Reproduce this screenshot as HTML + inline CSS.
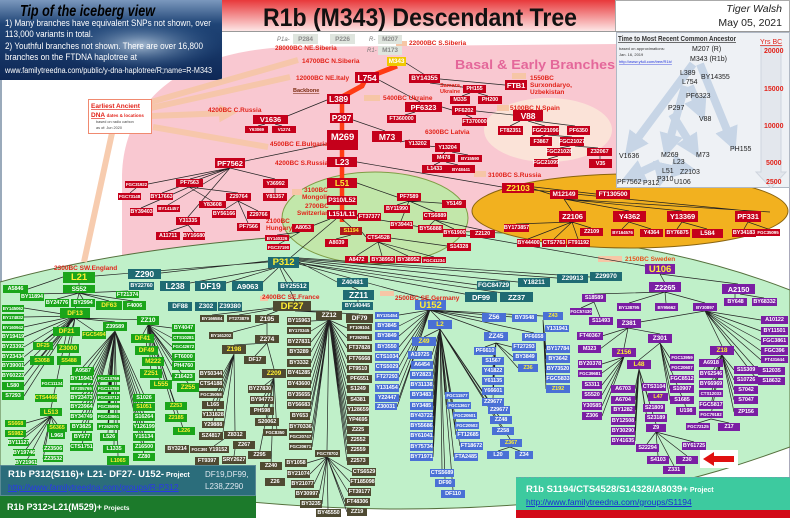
<!DOCTYPE html>
<html><head><meta charset="utf-8">
<style>
html,body{margin:0;padding:0;background:#fff}
#c{position:relative;width:790px;height:518px;overflow:hidden;background:#fff;font-family:"Liberation Sans",sans-serif}
svg{position:absolute;left:0;top:0}
.n{position:absolute;height:8px;display:flex;align-items:center;justify-content:center;font:bold 5.5px "Liberation Sans",sans-serif;color:#fff;white-space:nowrap;overflow:visible;letter-spacing:-0.1px}
.r{background:#c5001b}.g{background:#1aa51a}.t{background:#1f6b73}.o{background:#4f4a32}.b{background:#4a70d5}.p{background:#7a1ea3}
.gr{background:#dfe5de;color:#8a8a8a}
.y{color:#ffee33}
.f4{font-size:4.5px}.f6{font-size:6.5px}.f7{font-size:7.5px}.f8{font-size:8.5px}.f9{font-size:9.5px}
.d{font:bold 6.5px "Liberation Sans",sans-serif;fill:#e2231a}
.it{font:7px "Liberation Sans",sans-serif;fill:#222}
.bx{position:absolute;color:#fff;font-family:"Liberation Sans",sans-serif}
</style></head><body>
<div id="c">
<svg width="790" height="518" viewBox="0 0 790 518">
<defs>
<linearGradient id="tb" x1="0" y1="0" x2="0" y2="1"><stop offset="0" stop-color="#e8383a"/><stop offset="1" stop-color="#fde6e6"/></linearGradient>
<linearGradient id="ice" x1="0" y1="0" x2="0" y2="1"><stop offset="0" stop-color="#7b98bd"/><stop offset=".3" stop-color="#1f4476"/><stop offset="1" stop-color="#0e2856"/></linearGradient>
<radialGradient id="berg" cx=".5" cy=".5" r=".5"><stop offset="0" stop-color="#d6e6f4" stop-opacity=".75"/><stop offset="1" stop-color="#2a5a90" stop-opacity="0"/></radialGradient>
<marker id="ba" markerWidth="3" markerHeight="3" refX="1.5" refY="1.5" orient="auto"><path d="M0,0 L3,1.5 L0,3 Z" fill="#c5d4e6"/></marker>
<marker id="sa" markerWidth="3" markerHeight="3" refX="1.5" refY="1.5" orient="auto"><path d="M0,0 L3,1.5 L0,3 Z" fill="#f6c6a6"/></marker>
</defs>
<rect x="0" y="80" width="2" height="390" fill="#9aaabb"/>
<line x1="789.5" y1="0" x2="789.5" y2="518" stroke="#aab" stroke-width="1"/>
<path d="M290,47 L616,44 L616,205 L470,262 L122,264 L122,175 C124,95 190,50 290,47 Z" fill="#f9c8d1"/>
<ellipse cx="548" cy="130" rx="64" ry="32" fill="#fbe3d8"/>
<path d="M0,282 C150,240 350,228 480,232 C600,236 700,255 790,290 L790,447 C740,465 700,478 640,490 C560,505 460,509 400,509 C300,509 200,500 0,470 Z" fill="#c0f0c9" stroke="#55703d" stroke-width="1"/>
<ellipse cx="375" cy="218" rx="93" ry="46" fill="#c2e7aa" stroke="#7f9d45" stroke-width="1"/>
<ellipse cx="630" cy="211" rx="158" ry="37" fill="#f2b11f" stroke="#8a6410" stroke-width="1"/>
<rect x="0" y="0" width="222" height="80" fill="url(#ice)"/>
<ellipse cx="140" cy="45" rx="85" ry="28" fill="url(#berg)"/>
<text x="20" y="16" font-family="Liberation Sans" font-weight="bold" font-style="italic" font-size="16" fill="#000" textLength="135" lengthAdjust="spacingAndGlyphs">Tip of the iceberg view</text>
<g font-family="Liberation Sans" font-size="9.5" fill="#fff">
<text x="5" y="26" textLength="206" lengthAdjust="spacingAndGlyphs">1) Many branches have equivalent SNPs not shown, over</text>
<text x="5" y="37" textLength="88" lengthAdjust="spacingAndGlyphs">113,000 variants in total.</text>
<text x="5" y="49" textLength="198" lengthAdjust="spacingAndGlyphs">2) Youthful branches not shown. There are over 16,800</text>
<text x="5" y="60" textLength="132" lengthAdjust="spacingAndGlyphs">branches on the FTDNA haplotree at</text>
<text x="5" y="73" font-size="8" textLength="207" lengthAdjust="spacingAndGlyphs">www.familytreedna.com/public/y-dna-haplotree/R;name=R-M343</text>
</g>
<rect x="222" y="0" width="393" height="31" fill="url(#tb)"/>
<rect x="615.5" y="0.5" width="174" height="31" fill="#fff" stroke="#aaa"/>
<line x1="222" y1="31.5" x2="790" y2="31.5" stroke="#999"/>
<text x="263" y="26" font-family="Liberation Sans" font-weight="bold" font-size="25" fill="#111" textLength="314" lengthAdjust="spacingAndGlyphs">R1b (M343) Descendant Tree</text>
<text x="782" y="12" text-anchor="end" font-family="Liberation Sans" font-style="italic" font-size="10.5" fill="#222">Tiger Walsh</text>
<text x="782" y="26" text-anchor="end" font-family="Liberation Sans" font-size="10.5" fill="#222">May 05, 2021</text>
<rect x="616.5" y="32.5" width="173" height="155" fill="#eef1f5" stroke="#b0b8c4"/>
<path d="M761,46 L781,46 L781,172 L786,172 L771,188 L756,172 L761,172 Z" fill="#e3e7ed" stroke="#cfd5de"/>
<g stroke="#c5d4e6" stroke-width="8" fill="none" marker-end="url(#ba)" opacity=".95">
<line x1="693" y1="64" x2="632" y2="146"/>
<line x1="700" y1="64" x2="731" y2="140"/>
<line x1="685" y1="86" x2="668" y2="146"/>
<line x1="690" y1="86" x2="700" y2="110"/>
<line x1="672" y1="114" x2="693" y2="148"/>
<line x1="660" y1="163" x2="632" y2="176"/>
<line x1="664" y1="166" x2="662" y2="175"/>
<line x1="672" y1="166" x2="684" y2="168"/>
</g>
<text x="618" y="41" font-family="Liberation Sans" font-weight="bold" font-size="7" fill="#333" text-decoration="underline" textLength="118" lengthAdjust="spacingAndGlyphs">Time to Most Recent Common Ancestor</text>
<text x="760" y="44" font-family="Liberation Sans" font-size="7" fill="#e2231a" text-decoration="underline">Yrs BC</text>
<text x="619" y="50" font-family="Liberation Sans" font-size="4" fill="#333">based on approximations:</text>
<text x="619" y="56" font-family="Liberation Sans" font-size="4" fill="#333">Jan. 16, 2019</text>
<text x="619" y="63" font-family="Liberation Sans" font-size="4" fill="#2233dd" text-decoration="underline">http://www.yfull.com/tree/R1b/</text>
<g font-family="Liberation Sans" font-weight="bold" font-size="7" fill="#e2231a">
<text x="764" y="53">20000</text><text x="764" y="91">15000</text><text x="764" y="128">10000</text><text x="766" y="165">5000</text><text x="766" y="184">2500</text></g>
<g class="it">
<text x="692" y="51">M207 (R)</text><text x="690" y="61">M343  (R1b)</text><text x="680" y="75">L389</text><text x="701" y="79">BY14355</text><text x="682" y="84">L754</text><text x="686" y="98">PF6323</text><text x="668" y="110">P297</text><text x="699" y="121">V88</text><text x="730" y="151">PH155</text><text x="619" y="158">V1636</text><text x="661" y="157">M269</text><text x="673" y="164">L23</text><text x="696" y="157">M73</text><text x="662" y="173">L51</text><text x="680" y="174">Z2103</text><text x="617" y="184">PF7562</text><text x="643" y="185">P312</text><text x="657" y="181">P310</text><text x="674" y="184">U106</text>
</g>
<g stroke="#f6c6a6" stroke-width="6" fill="none" opacity=".9">
<line x1="151" y1="102" x2="298" y2="60"/>
<line x1="151" y1="108" x2="290" y2="77"/>
<line x1="151" y1="116" x2="228" y2="113" marker-end="url(#sa)"/>
<line x1="153" y1="127" x2="268" y2="147"/>
<line x1="112" y1="133" x2="84" y2="262"/>
</g>
<g fill="#f6c6a6">
<rect x="396" y="41" width="11" height="5"/><rect x="364" y="95" width="16" height="6"/><rect x="497" y="105" width="12" height="6"/>
<rect x="512" y="73" width="14" height="6"/><rect x="474" y="171" width="12" height="6"/><rect x="598" y="256" width="24" height="6"/>
<rect x="380" y="291" width="14" height="5"/><rect x="292" y="189" width="10" height="6"/><rect x="260" y="296" width="8" height="5"/>
</g>
<rect x="88.5" y="99.5" width="63" height="34" fill="#fff" stroke="#f08a70"/>
<text x="91" y="108" font-family="Liberation Sans" font-weight="bold" font-size="6.5" fill="#e2231a" text-decoration="underline">Earliest Ancient</text>
<text x="91" y="117" font-family="Liberation Sans" font-weight="bold" font-size="6.5" fill="#e2231a"><tspan text-decoration="underline">DNA</tspan> <tspan font-size="4.5">dates &amp; locations</tspan></text>
<text x="96" y="123" font-family="Liberation Sans" font-size="3.8" fill="#444">based on radio carbon</text>
<text x="96" y="129" font-family="Liberation Sans" font-size="3.8" fill="#444">as of: Jun 2020</text>
<polyline points="397,66 366,78 362,86 340,98" stroke="#ff3b14" stroke-width="5" fill="none"/>
<line x1="342" y1="98" x2="342" y2="222" stroke="#ff3b14" stroke-width="4.5"/>
<path stroke="#222" stroke-width="0.7" fill="none" d="
M406,63 L425,75 M440,79 L505,85 M430,83 L470,88 M470,93 L462,96 M478,93 L488,96
M379,80 L420,102 M415,112 L405,115 M442,107 L452,110 M476,111 L513,115 M466,115 L472,118
M327,100 L285,117 M265,124 L258,126 M275,124 L282,126
M520,121 L510,126 M528,121 L545,126 M535,121 L575,126 M545,135 L541,137 M548,135 L572,137
M570,146 L560,148 M575,146 L598,148 M558,156 L548,159 M600,156 L600,159
M353,120 L385,131 M400,142 L410,140 M428,146 L438,147 M445,152 L443,154 M452,152 L468,155 M440,162 L434,165 M446,162 L458,165
M327,144 L245,161 M357,162 L502,187
M230,168 L148,184 M230,168 L190,179 M230,168 L275,179 M230,168 L162,193 M230,168 L168,205 M230,168 L188,217 M136,188 L130,193
M189,187 L212,201 M189,187 L238,193 M189,187 L141,208 M238,201 L224,210 M238,201 L258,211 M238,201 L248,223
M275,188 L275,193 M188,225 L168,232 M188,225 L194,232
M357,183 L397,197 M409,201 L454,204 M409,201 L397,205 M409,201 L435,212 M409,201 L401,221
M435,220 L430,225 M435,220 L454,229 M435,220 L482,230 M357,215 L360,216
M330,219 L312,226 M300,232 L277,235 M300,232 L279,244 M342,219 L351,227 M351,235 L336,239 M361,231 L366,237
M378,242 L356,256 M378,242 L382,256 M378,242 L408,256 M378,242 L434,257 M390,238 L447,246
M534,189 L550,194 M534,187 L596,194 M534,190 L748,211 M564,199 L572,211 M564,199 L629,211 M564,199 L682,211 M564,199 L770,212
M572,222 L516,224 M572,222 L528,239 M572,222 L554,239 M572,222 L578,239 M572,222 L591,228
M629,222 L622,229 M629,222 L651,229 M682,222 L677,229 M682,222 L707,229 M748,222 L744,229 M748,222 L768,229
M357,216 L645,266 M336,219 L290,258
M268,262 L95,276 M268,261 L161,273 M272,268 L190,283 M275,268 L226,283 M278,268 L262,283 M283,268 L293,282
M299,262 L337,282 M280,268 L295,301 M299,264 L430,300 M299,261 L478,285 M299,260 L518,282 M299,259 L557,278 M299,258 L590,277 M299,263 L470,295 M299,263 L510,294
M352,287 L358,290 M358,300 L358,302
M63,277 L28,289 M79,283 L79,285
M79,293 L32,294 M79,293 L57,299 M79,293 L83,299 M79,293 L128,291 M79,293 L133,301 M79,293 L109,301 M79,293 L75,310
M75,316 L24,308 M75,316 L24,317 M75,316 L24,327 M75,316 L24,337 M75,316 L24,347 M75,316 L24,357 M75,316 L24,366 M75,316 L24,376 M75,316 L24,386 M75,316 L24,396
M75,318 L66,327 M75,318 L94,331 M75,318 L115,322 M75,318 L148,320 M75,318 L43,342 M75,318 L68,344 M75,318 L42,356 M75,318 L69,356 M66,336 L51,408
M115,331 L83,367 M115,331 L82,375 M115,331 L82,385 M115,331 L82,395 M115,331 L82,404 M115,331 L82,414 M115,331 L82,424 M115,331 L82,434 M115,331 L82,444
M115,331 L108,375 M115,331 L108,385 M115,331 L108,395 M115,331 L108,404 M115,331 L108,414 M115,331 L108,424 M115,331 L108,433 M115,331 L114,445 M115,331 L118,456
M115,331 L144,395 M115,331 L144,404 M115,331 L144,414 M115,331 L144,424 M115,331 L144,434 M115,331 L144,444 M115,331 L144,454
M148,325 L172,328 M148,325 L172,338 M148,325 L172,347 M148,325 L172,357 M148,325 L172,366 M148,325 L172,377 M148,325 L188,383
M148,325 L143,334 M148,325 L146,350 M148,325 L153,361 M148,325 L151,373 M148,325 L161,384 M148,325 L176,406 M148,325 L176,418 M148,325 L184,431
M51,416 L26,423 M51,416 L26,433 M51,416 L18,443 M51,416 L24,452 M51,416 L26,462 M51,416 L43,449 M51,416 L43,459 M51,416 L57,424 M51,416 L57,436
M295,311 L329,311 M295,311 L359,314 M290,306 L267,315 M290,306 L239,315 M290,306 L212,315
M329,320 L311,321 M329,320 L311,331 M329,320 L311,342 M329,320 L311,352 M329,320 L311,363 M329,320 L311,373 M329,320 L311,384 M329,320 L311,395 M329,320 L311,405 M329,320 L310,416 M329,320 L312,427 M329,320 L312,437 M329,320 L312,447
M329,320 L347,328 M329,320 L347,338 M329,320 L347,348 M329,320 L347,359 M329,320 L347,369 M329,320 L347,379 M329,320 L347,389 M329,320 L347,400 M329,320 L347,410 M329,320 L347,420 M329,320 L347,430 M329,320 L347,440 M329,320 L347,450 M329,320 L347,461 M329,320 L327,450
M327,457 L307,463 M327,457 L310,474 M327,457 L314,484 M327,457 L319,494 M327,457 L322,504 M327,457 L328,509 M327,457 L347,512 M327,457 L345,502 M327,457 L348,492 M327,457 L350,482 M327,457 L352,472
M267,323 L267,335 M267,323 L233,332 M267,343 L234,345 M267,343 L255,356 M267,343 L274,369
M234,354 L223,374 M234,354 L223,384 M234,354 L223,395 M234,354 L213,401 M234,354 L213,411 M234,354 L213,421 M234,354 L223,432 M234,354 L235,431
M274,378 L260,389 M274,378 L262,400 M274,378 L262,411 M274,378 L267,422 M274,378 L277,433 M274,378 L259,455 M274,378 L271,466 M224,439 L214,446 M235,449 L234,456
M430,310 L399,315 M430,310 L399,326 M430,310 L399,336 M430,310 L399,347 M430,310 L399,357 M430,310 L399,367 M430,310 L399,377 M430,310 L399,388 M430,310 L399,398 M430,310 L397,407
M430,310 L440,320 M430,310 L482,318 M430,310 L524,318 M430,310 L543,316 M430,310 L496,334 M430,310 L534,333
M440,329 L424,337 M440,329 L432,355 M440,329 L433,365 M440,329 L433,375 M440,329 L433,385 M440,329 L433,395 M440,329 L433,406 M440,329 L433,416 M440,329 L433,426 M440,329 L433,436 M440,329 L433,447 M440,329 L433,457
M440,329 L445,395 M440,329 L447,405 M440,329 L453,415 M440,329 L455,425 M440,329 L456,435 M440,329 L460,446 M440,329 L454,457 M440,329 L442,469 M440,329 L445,479 M440,329 L453,490
M440,329 L494,408 M440,329 L500,418 M440,329 L502,429 M440,329 L510,439 M510,447 L498,451 M510,447 L520,451
M496,343 L485,347 M496,343 L493,357 M496,343 L493,367 M496,343 L493,377 M496,343 L493,387 M496,343 L493,398 M496,343 L512,347 M496,343 L513,357 M496,343 L518,368
M543,320 L546,349 M543,320 L546,359 M543,320 L546,369 M543,320 L546,379 M543,320 L546,389
M660,274 L665,283 M660,274 L738,284 M665,292 L594,294 M665,292 L629,303 M665,292 L666,303 M665,292 L705,303
M735,294 L735,298 M740,294 L764,298 M594,302 L581,308 M594,302 L600,317
M705,311 L640,322 M705,311 L761,320 M705,311 L761,331 M705,311 L761,341 M705,311 L761,351 M705,311 L761,360 M705,311 L758,371 M705,311 L758,381 M705,311 L722,346
M628,328 L602,336 M628,328 L600,349 M628,328 L660,334 M628,328 L624,348
M624,357 L602,364 M624,357 L602,373 M624,357 L602,385 M624,357 L602,395 M624,357 L602,406 M624,357 L602,416
M639,369 L635,389 M639,369 L635,400 M639,369 L635,410 M639,369 L635,421 M639,369 L635,431 M639,369 L635,441 M639,369 L642,387 M639,369 L648,397 M639,369 L645,408 M639,369 L647,418 M639,369 L656,424
M660,343 L670,358 M660,343 L670,368 M660,343 L670,379 M660,343 L670,389 M660,343 L670,400 M660,343 L686,407 M660,343 L639,360
M722,355 L711,363 M722,355 L711,374 M722,355 L711,384 M722,355 L711,394 M722,355 L711,405 M722,355 L711,415 M722,355 L734,370 M722,355 L734,380 M722,355 L734,390 M722,355 L734,400 M722,355 L734,412
M711,419 L698,423 M711,419 L729,423
M656,432 L647,444 M656,432 L658,456 M656,432 L674,466 M656,432 L687,456 M656,432 L694,442
"/>
<g class="d">
<text x="275" y="50">28000BC NE.Siberia</text>
<text x="409" y="45">22000BC S.Siberia</text>
<text x="302" y="63">14700BC N.Siberia</text>
<text x="296" y="80">12000BC NE.Italy</text>
<text x="383" y="100">5400BC Ukraine</text>
<text x="440" y="87" font-size="5.5">Samara,</text><text x="440" y="93" font-size="5.5">Ukraine</text>
<text x="530" y="80">1550BC</text><text x="530" y="87">Surxondaryo,</text><text x="530" y="94">Uzbekistan</text>
<text x="510" y="110">5100BC N.Spain</text>
<text x="208" y="112">4200BC C.Russia</text>
<text x="425" y="134">6300BC Latvia</text>
<text x="270" y="146">4500BC E.Bulgaria</text>
<text x="275" y="165">4200BC S.Russia</text>
<text x="488" y="177">3100BC S.Russia</text>
<text x="304" y="192">3100BC</text><text x="302" y="199">Mongolia</text>
<text x="305" y="208">2700BC</text><text x="297" y="215">Switzerland</text>
<text x="266" y="223">2100BC</text><text x="266" y="230">Hungary</text>
<text x="54" y="270">2300BC SW.England</text>
<text x="262" y="299">2400BC SE.France</text>
<text x="395" y="300">2500BC SE.Germany</text>
<text x="625" y="261" fill="#e8501a">2150BC Sweden</text>
</g>
<text x="293" y="92" font-family="Liberation Sans" font-weight="bold" font-size="5.5" fill="#7a2a10" text-decoration="underline">Backbone</text>
<text x="455" y="69" font-family="Liberation Sans" font-weight="bold" font-size="13" fill="#e4679a" textLength="160" lengthAdjust="spacingAndGlyphs">Basal &amp; Early Branches</text>
<rect x="700" y="450" width="38" height="18" fill="#fff"/>
<path d="M703,459 L714,452 L714,456 L734,456 L734,462 L714,462 L714,466 Z" fill="#e01010"/>
</svg>

<i class="n gr f6" style="left:293px;top:34px;width:25px;height:10px">P284</i>
<i class="n gr f6" style="left:330px;top:34px;width:25px;height:10px">P226</i>
<i class="n gr f6" style="left:378px;top:35px;width:24px;height:9px">M207</i>
<i class="n gr f6" style="left:378px;top:46px;width:24px;height:9px">M173</i>
<svg width="790" height="60" style="pointer-events:none"><g font-family="Liberation Sans" font-style="italic" font-size="6" fill="#777"><text x="277" y="41">P1a-</text><text x="369" y="41">R-</text><text x="367" y="52">R1-</text><text x="360" y="64" fill="#111" font-weight="bold">R1b-</text></g></svg>
<i class="n f6" style="left:387px;top:57px;width:19px;height:9px;background:#f0c800;color:#fff">M343</i>

<i class="n r f8" style="left:355px;top:72px;width:24px;height:11px">L754</i>
<i class="n r f6" style="left:409px;top:74px;width:31px;height:9px">BY14355</i>
<i class="n r f7" style="left:505px;top:80px;width:22px;height:10px">FTB1</i>
<i class="n r" style="left:463px;top:85px;width:23px">PH155</i>
<i class="n r" style="left:450px;top:96px;width:20px">M335</i>
<i class="n r" style="left:478px;top:96px;width:24px">PH200</i>
<i class="n r f8" style="left:327px;top:94px;width:23px;height:10px">L389</i>
<i class="n r f7" style="left:405px;top:102px;width:37px;height:10px">PF6323</i>
<i class="n r" style="left:452px;top:106px;width:24px;height:9px">PF6202</i>
<i class="n r f8" style="left:513px;top:110px;width:30px;height:11px">V88</i>
<i class="n r f8" style="left:330px;top:113px;width:23px;height:10px">P297</i>
<i class="n r" style="left:387px;top:115px;width:29px">FT360000</i>
<i class="n r" style="left:462px;top:118px;width:25px">FT370000</i>
<i class="n r f7" style="left:253px;top:115px;width:35px;height:9px">V1636</i>
<i class="n r f4" style="left:245px;top:126px;width:23px;height:7px">Y63069</i>
<i class="n r f4" style="left:272px;top:126px;width:24px;height:7px">V1274</i>
<i class="n r" style="left:498px;top:126px;width:25px;height:9px">FT82351</i>
<i class="n r" style="left:532px;top:126px;width:27px;height:9px">FGC21096</i>
<i class="n r" style="left:567px;top:126px;width:23px;height:9px">PF6350</i>
<i class="n r" style="left:530px;top:137px;width:22px;height:9px">F3867</i>
<i class="n r" style="left:560px;top:137px;width:24px;height:9px">FGC21027</i>
<i class="n r" style="left:547px;top:148px;width:24px">FGC21028</i>
<i class="n r" style="left:587px;top:148px;width:25px">Z32067</i>
<i class="n r" style="left:534px;top:159px;width:24px">FGC21099</i>
<i class="n r" style="left:589px;top:159px;width:23px;height:9px">V35</i>
<i class="n r f9" style="left:327px;top:130px;width:31px;height:20px;align-items:flex-start;padding-top:2px;box-sizing:border-box">M269</i>
<i class="n r f8" style="left:372px;top:131px;width:30px;height:11px">M73</i>
<i class="n r" style="left:405px;top:140px;width:25px">Y13202</i>
<i class="n r" style="left:435px;top:143px;width:25px;height:9px">Y13204</i>
<i class="n r" style="left:432px;top:154px;width:23px">M478</i>
<i class="n r f4" style="left:458px;top:155px;width:24px;height:7px">BY15590</i>
<i class="n r" style="left:422px;top:165px;width:25px">L1433</i>
<i class="n r f4" style="left:447px;top:165px;width:28px">BY48441</i>
<i class="n r f7" style="left:215px;top:158px;width:30px;height:10px">PF7562</i>
<i class="n r f8" style="left:327px;top:157px;width:30px;height:10px">L23</i>
<i class="n r f4" style="left:125px;top:181px;width:23px;height:7px">FGC31922</i>
<i class="n r f4" style="left:118px;top:193px;width:23px;height:7px">FGC73148</i>
<i class="n r" style="left:176px;top:179px;width:27px">PF7563</i>
<i class="n r" style="left:263px;top:179px;width:25px;height:9px">Y36992</i>
<i class="n r f8 y" style="left:327px;top:178px;width:30px;height:10px">L51</i>
<i class="n r f8 y" style="left:502px;top:183px;width:32px;height:10px">Z2103</i>
<i class="n r" style="left:263px;top:193px;width:24px">Y81357</i>
<i class="n r" style="left:226px;top:193px;width:25px">Z29764</i>
<i class="n r" style="left:150px;top:193px;width:23px;height:7px">BY17663</i>
<i class="n r" style="left:199px;top:201px;width:27px;height:7px">Y83608</i>
<i class="n r" style="left:130px;top:208px;width:23px">BY39403</i>
<i class="n r f4" style="left:157px;top:205px;width:23px;height:7px">BY141457</i>
<i class="n r" style="left:176px;top:217px;width:24px">Y31335</i>
<i class="n r" style="left:212px;top:210px;width:24px">BY56166</i>
<i class="n r" style="left:247px;top:211px;width:23px">Z29766</i>
<i class="n r" style="left:237px;top:223px;width:23px">PF7566</i>
<i class="n r" style="left:156px;top:232px;width:24px">A11711</i>
<i class="n r" style="left:183px;top:232px;width:22px">BY16680</i>
<i class="n r f6" style="left:327px;top:196px;width:30px;height:9px">P310/L52</i>
<i class="n r" style="left:397px;top:193px;width:24px">PF7589</i>
<i class="n r" style="left:442px;top:200px;width:24px">Y5149</i>
<i class="n r" style="left:384px;top:205px;width:26px">BY11990</i>
<i class="n r" style="left:423px;top:212px;width:24px">CTS6889</i>
<i class="n r" style="left:390px;top:221px;width:23px">BY39441</i>
<i class="n r" style="left:418px;top:225px;width:25px">BY56888</i>
<i class="n r" style="left:443px;top:229px;width:23px">BY61900</i>
<i class="n r" style="left:470px;top:230px;width:25px">Z2120</i>
<i class="n r f6" style="left:327px;top:210px;width:30px;height:9px">L151/L11</i>
<i class="n r" style="left:358px;top:213px;width:23px">FT37377</i>
<i class="n r" style="left:292px;top:224px;width:22px">A8053</i>
<i class="n r f4" style="left:265px;top:235px;width:24px;height:6px">BY140326</i>
<i class="n r f4" style="left:267px;top:244px;width:23px;height:6px">FGC37190</i>
<i class="n y" style="left:340px;top:227px;width:22px;background:#b01818">S1194</i>
<i class="n r" style="left:325px;top:239px;width:23px">A8039</i>
<i class="n r" style="left:366px;top:234px;width:25px">CTS4528</i>
<i class="n r" style="left:447px;top:243px;width:24px">S14328</i>
<i class="n r" style="left:345px;top:256px;width:23px;height:7px">A8472</i>
<i class="n r" style="left:370px;top:256px;width:25px;height:7px">BY38950</i>
<i class="n r" style="left:396px;top:256px;width:25px;height:7px">BY38952</i>
<i class="n r f4" style="left:422px;top:257px;width:24px;height:6px">FGC41234</i>
<i class="n r f6" style="left:550px;top:190px;width:28px;height:9px">M12149</i>
<i class="n r f6" style="left:596px;top:190px;width:34px;height:9px">FT130500</i>
<i class="n r f7" style="left:559px;top:211px;width:27px;height:11px">Z2106</i>
<i class="n r f7" style="left:613px;top:211px;width:33px;height:11px">Y4362</i>
<i class="n r f7" style="left:667px;top:211px;width:31px;height:11px">Y13369</i>
<i class="n r f7" style="left:735px;top:211px;width:26px;height:11px">PF331</i>
<i class="n r" style="left:504px;top:224px;width:25px">BY173857</i>
<i class="n r" style="left:580px;top:228px;width:23px">Z2109</i>
<i class="n r f4" style="left:611px;top:229px;width:23px;height:7px">BY164576</i>
<i class="n r" style="left:640px;top:229px;width:23px">Y4364</i>
<i class="n r" style="left:665px;top:229px;width:25px">BY76875</i>
<i class="n r f6" style="left:692px;top:229px;width:31px;height:9px">L584</i>
<i class="n r" style="left:732px;top:229px;width:24px">BY34183</i>
<i class="n r f4" style="left:756px;top:229px;width:24px;height:7px">FGC35095</i>
<i class="n r" style="left:517px;top:239px;width:23px">BY44400</i>
<i class="n r" style="left:542px;top:239px;width:24px">CTS7763</i>
<i class="n r" style="left:567px;top:239px;width:23px">FT91192</i>

<i class="n t f9 y" style="left:268px;top:257px;width:31px;height:11px">P312</i>
<i class="n t f8" style="left:128px;top:269px;width:33px;height:10px">Z290</i>
<i class="n t" style="left:129px;top:282px;width:25px">BY22760</i>
<i class="n t f8" style="left:160px;top:281px;width:30px;height:10px">L238</i>
<i class="n t f8" style="left:195px;top:281px;width:31px;height:10px">DF19</i>
<i class="n t f7" style="left:232px;top:281px;width:31px;height:10px">A9063</i>
<i class="n t f6" style="left:168px;top:302px;width:24px;height:9px">DF88</i>
<i class="n t f6" style="left:195px;top:302px;width:22px;height:9px">Z302</i>
<i class="n t f6" style="left:218px;top:302px;width:24px;height:9px">Z39380</i>
<i class="n t f6" style="left:278px;top:282px;width:31px;height:9px">BY25512</i>
<i class="n t f6" style="left:337px;top:278px;width:31px;height:9px">Z40481</i>
<i class="n t f8" style="left:343px;top:290px;width:31px;height:10px">ZZ11</i>
<i class="n t" style="left:342px;top:302px;width:31px">BY140445</i>
<i class="n t f6" style="left:477px;top:281px;width:33px;height:9px">FGC84729</i>
<i class="n t f6" style="left:518px;top:278px;width:32px;height:9px">Y18211</i>
<i class="n t f6" style="left:557px;top:274px;width:31px;height:9px">Z29913</i>
<i class="n t f6" style="left:590px;top:272px;width:32px;height:9px">Z29970</i>
<i class="n t f7" style="left:465px;top:292px;width:32px;height:10px">DF99</i>
<i class="n t f7" style="left:500px;top:292px;width:33px;height:10px">ZZ37</i>

<i class="n g f9 y" style="left:63px;top:272px;width:32px;height:11px">L21</i>
<i class="n g f6" style="left:63px;top:285px;width:32px">S552</i>
<i class="n g" style="left:3px;top:285px;width:25px">A5846</i>
<i class="n g" style="left:20px;top:293px;width:24px">BY11894</i>
<i class="n g" style="left:45px;top:299px;width:24px">BY24776</i>
<i class="n g" style="left:71px;top:299px;width:24px">BY2994</i>
<i class="n g f6 y" style="left:96px;top:301px;width:26px;height:9px">DF63</i>
<i class="n g" style="left:116px;top:291px;width:23px;height:7px">FT21374</i>
<i class="n g" style="left:123px;top:301px;width:23px;height:9px">F4006</i>
<i class="n g f6 y" style="left:60px;top:308px;width:30px;height:10px">DF13</i>
<i class="n g f4" style="left:2px;top:305px;width:22px;height:7px">BY145062</i>
<i class="n g f4" style="left:2px;top:314px;width:22px;height:7px">BY174832</i>
<i class="n g f4" style="left:2px;top:324px;width:22px;height:7px">BY160942</i>
<i class="n g" style="left:2px;top:333px;width:22px">BY19419</i>
<i class="n g" style="left:2px;top:343px;width:22px">BY23392</i>
<i class="n g" style="left:2px;top:353px;width:22px">BY23434</i>
<i class="n g" style="left:2px;top:362px;width:22px">BY39001</i>
<i class="n g" style="left:2px;top:372px;width:22px">BY60223</i>
<i class="n g" style="left:2px;top:382px;width:22px">L580</i>
<i class="n g" style="left:2px;top:392px;width:22px">S7293</i>
<i class="n g f6 y" style="left:53px;top:327px;width:27px;height:9px">DF21</i>
<i class="n g y" style="left:82px;top:331px;width:24px">FGC5494</i>
<i class="n g" style="left:103px;top:322px;width:24px;height:9px">Z39589</i>
<i class="n g f6" style="left:137px;top:316px;width:22px;height:9px">ZZ10</i>
<i class="n g y" style="left:33px;top:342px;width:20px">DF25</i>
<i class="n g f6 y" style="left:57px;top:344px;width:22px;height:9px">Z3000</i>
<i class="n g f6 y" style="left:131px;top:334px;width:23px;height:9px">DF41</i>
<i class="n g" style="left:172px;top:324px;width:23px">BY4047</i>
<i class="n g f4" style="left:172px;top:334px;width:23px;height:7px">CTS10281</i>
<i class="n g f4" style="left:172px;top:343px;width:23px;height:7px">FGC42672</i>
<i class="n g" style="left:172px;top:353px;width:23px">FT6000</i>
<i class="n g" style="left:172px;top:362px;width:23px">PH4760</i>
<i class="n g" style="left:172px;top:373px;width:23px">Z16423</i>
<i class="n g f6 y" style="left:177px;top:383px;width:22px;height:9px">Z255</i>
<i class="n g f6 y" style="left:135px;top:346px;width:23px;height:9px">DF49</i>
<i class="n g f6 y" style="left:142px;top:357px;width:22px;height:9px">M222</i>
<i class="n g f6 y" style="left:140px;top:369px;width:22px;height:9px">Z251</i>
<i class="n g f6 y" style="left:150px;top:380px;width:22px;height:9px">L555</i>
<i class="n g y" style="left:30px;top:356px;width:24px;height:9px">S3058</i>
<i class="n g y" style="left:57px;top:356px;width:24px;height:9px">S5488</i>
<i class="n g" style="left:72px;top:367px;width:22px">A9587</i>
<i class="n g" style="left:70px;top:375px;width:23px">BY15941</i>
<i class="n g f4" style="left:97px;top:375px;width:23px;height:7px">FGC13769</i>
<i class="n g f4" style="left:41px;top:379px;width:22px">FGC11134</i>
<i class="n g f4" style="left:70px;top:385px;width:23px;height:7px">BY205765</i>
<i class="n g f4" style="left:97px;top:385px;width:23px;height:7px">FGC13780</i>
<i class="n g y" style="left:35px;top:394px;width:22px">CTS4466</i>
<i class="n g" style="left:70px;top:394px;width:23px;height:7px">BY23473</i>
<i class="n g f4" style="left:97px;top:394px;width:23px;height:7px">FGC33712</i>
<i class="n g" style="left:133px;top:394px;width:22px">S1026</i>
<i class="n g" style="left:70px;top:403px;width:23px;height:7px">BY23964</i>
<i class="n g f4" style="left:97px;top:403px;width:23px;height:7px">FGC35996</i>
<i class="n g y" style="left:133px;top:403px;width:22px">S1051</i>
<i class="n g" style="left:70px;top:413px;width:23px;height:7px">BY34749</i>
<i class="n g f4" style="left:97px;top:413px;width:23px;height:7px">FGC43861</i>
<i class="n g" style="left:133px;top:413px;width:22px">S16264</i>
<i class="n g" style="left:70px;top:423px;width:23px">BY3825</i>
<i class="n g f4" style="left:97px;top:423px;width:23px;height:7px">FT262970</i>
<i class="n g" style="left:133px;top:423px;width:22px">Y126199</i>
<i class="n g" style="left:72px;top:433px;width:20px">BY577</i>
<i class="n g" style="left:100px;top:433px;width:18px">L526</i>
<i class="n g" style="left:133px;top:433px;width:22px">Y15134</i>
<i class="n g" style="left:70px;top:443px;width:23px">CTS1751</i>
<i class="n g" style="left:133px;top:443px;width:22px">Z16500</i>
<i class="n g" style="left:133px;top:453px;width:22px">ZZ80</i>
<i class="n g" style="left:103px;top:445px;width:22px">L1335</i>
<i class="n g y" style="left:107px;top:456px;width:22px;height:9px">L1065</i>
<i class="n g y" style="left:165px;top:402px;width:22px">Z253</i>
<i class="n g y" style="left:165px;top:414px;width:22px">Z2185</i>
<i class="n g y" style="left:173px;top:427px;width:22px">L226</i>
<i class="n g f6 y" style="left:40px;top:408px;width:22px">L513</i>
<i class="n g y" style="left:5px;top:420px;width:21px;height:7px">S5668</i>
<i class="n g y" style="left:5px;top:430px;width:21px;height:7px">S5982</i>
<i class="n g y" style="left:47px;top:424px;width:20px">S6365</i>
<i class="n g" style="left:49px;top:432px;width:16px;height:7px">L968</i>
<i class="n g" style="left:8px;top:439px;width:21px;height:7px">BY11127</i>
<i class="n g" style="left:13px;top:449px;width:22px;height:7px">BY19746</i>
<i class="n g" style="left:15px;top:459px;width:22px;height:7px">BY21961</i>
<i class="n g" style="left:43px;top:445px;width:20px;height:7px">Z23506</i>
<i class="n g" style="left:43px;top:455px;width:20px;height:7px">Z23532</i>

<i class="n o f9 y" style="left:273px;top:301px;width:38px;height:10px">DF27</i>
<i class="n o f6" style="left:316px;top:311px;width:26px;height:9px">ZZ12</i>
<i class="n o f6" style="left:346px;top:314px;width:27px;height:9px">DF79</i>
<i class="n o" style="left:287px;top:317px;width:24px">BY15963</i>
<i class="n o f4" style="left:287px;top:327px;width:24px;height:7px">BY170345</i>
<i class="n o" style="left:287px;top:338px;width:24px">BY27831</i>
<i class="n o" style="left:287px;top:348px;width:24px">BY3289</i>
<i class="n o" style="left:287px;top:359px;width:24px">BY3332</i>
<i class="n o" style="left:287px;top:369px;width:24px">BY41285</i>
<i class="n o" style="left:287px;top:380px;width:24px">BY43600</i>
<i class="n o" style="left:287px;top:391px;width:24px">BY35655</i>
<i class="n o" style="left:287px;top:401px;width:24px">BY56683</i>
<i class="n o" style="left:290px;top:412px;width:20px">BY653</i>
<i class="n o" style="left:289px;top:423px;width:23px">BY70336</i>
<i class="n o f4" style="left:289px;top:433px;width:23px;height:7px">FGC20747</i>
<i class="n o f4" style="left:289px;top:443px;width:23px;height:7px">FGC20671</i>
<i class="n o f4" style="left:315px;top:450px;width:25px;height:7px">FGC78702</i>
<i class="n o" style="left:285px;top:459px;width:22px">BY1058</i>
<i class="n o" style="left:287px;top:470px;width:23px">BY21074</i>
<i class="n o" style="left:291px;top:480px;width:23px">BY21077</i>
<i class="n o" style="left:295px;top:490px;width:24px">BY30997</i>
<i class="n o" style="left:300px;top:500px;width:22px">BY3235</i>
<i class="n o" style="left:316px;top:509px;width:25px">BY45550</i>
<i class="n o" style="left:347px;top:508px;width:20px">ZZ19</i>
<i class="n o" style="left:345px;top:498px;width:25px">FT48306</i>
<i class="n o" style="left:348px;top:488px;width:23px">FT39177</i>
<i class="n o" style="left:350px;top:478px;width:25px">FT185098</i>
<i class="n o" style="left:352px;top:468px;width:24px">CTS6529</i>
<i class="n o" style="left:347px;top:457px;width:22px">Z2573</i>
<i class="n o" style="left:347px;top:446px;width:22px">Z2559</i>
<i class="n o" style="left:347px;top:436px;width:22px">Z2552</i>
<i class="n o" style="left:347px;top:426px;width:22px">Z225</i>
<i class="n o" style="left:347px;top:416px;width:22px">YP4695</i>
<i class="n o" style="left:347px;top:406px;width:22px">Y128659</i>
<i class="n o" style="left:347px;top:396px;width:22px">S4381</i>
<i class="n o" style="left:347px;top:385px;width:22px">S1249</i>
<i class="n o" style="left:347px;top:375px;width:25px">PF6551</i>
<i class="n o" style="left:347px;top:365px;width:22px">FT9510</i>
<i class="n o" style="left:347px;top:355px;width:25px">FT76668</i>
<i class="n o" style="left:347px;top:344px;width:25px">FT37828</i>
<i class="n o f4" style="left:347px;top:334px;width:25px;height:7px">FT292981</i>
<i class="n o f4" style="left:347px;top:324px;width:25px;height:7px">FT109104</i>
<i class="n o f4" style="left:200px;top:315px;width:24px;height:7px">BY166584</i>
<i class="n o f4" style="left:227px;top:315px;width:24px;height:7px">FT273879</i>
<i class="n o f6" style="left:255px;top:315px;width:24px">Z195</i>
<i class="n o f4" style="left:209px;top:332px;width:24px;height:7px">BY161202</i>
<i class="n o f6" style="left:255px;top:335px;width:24px">Z274</i>
<i class="n o f6 y" style="left:222px;top:345px;width:24px;height:9px">Z198</i>
<i class="n o" style="left:244px;top:356px;width:22px">DF17</i>
<i class="n o f6 y" style="left:262px;top:369px;width:24px;height:9px">Z209</i>
<i class="n o" style="left:199px;top:370px;width:24px">BY50344</i>
<i class="n o" style="left:199px;top:380px;width:24px">CTS4188</i>
<i class="n o f4" style="left:199px;top:391px;width:24px;height:7px">FGC35058</i>
<i class="n o" style="left:202px;top:401px;width:22px">L165</i>
<i class="n o" style="left:202px;top:411px;width:22px;height:7px">Y131828</i>
<i class="n o" style="left:202px;top:421px;width:22px;height:7px">Y29888</i>
<i class="n o" style="left:199px;top:432px;width:24px">SZ4817</i>
<i class="n o" style="left:224px;top:431px;width:22px">Z8312</i>
<i class="n o" style="left:233px;top:441px;width:22px">Z267</i>
<i class="n o" style="left:165px;top:445px;width:24px">BY3214</i>
<i class="n o f4" style="left:190px;top:446px;width:24px;height:7px">FGC39119</i>
<i class="n o" style="left:207px;top:446px;width:22px;height:7px">Y19152</i>
<i class="n o" style="left:195px;top:457px;width:24px">FT9397</i>
<i class="n o" style="left:222px;top:456px;width:24px">SRY2627</i>
<i class="n o" style="left:248px;top:385px;width:24px">BY27830</i>
<i class="n o" style="left:250px;top:396px;width:24px">BY94773</i>
<i class="n o" style="left:250px;top:407px;width:24px">PH598</i>
<i class="n o" style="left:255px;top:418px;width:24px">S20062</i>
<i class="n o f4" style="left:263px;top:429px;width:24px;height:7px">FGC8350</i>
<i class="n o" style="left:248px;top:451px;width:23px">Z295</i>
<i class="n o" style="left:260px;top:462px;width:22px">Z240</i>
<i class="n o" style="left:265px;top:478px;width:20px">Z26</i>

<i class="n b f9 y" style="left:415px;top:300px;width:31px;height:10px">U152</i>
<i class="n b f4" style="left:375px;top:312px;width:24px;height:7px">BY131454</i>
<i class="n b" style="left:375px;top:322px;width:24px">BY3845</i>
<i class="n b" style="left:375px;top:332px;width:24px">BY3849</i>
<i class="n b" style="left:375px;top:343px;width:24px">BY3550</i>
<i class="n b" style="left:375px;top:353px;width:24px">CTS1034</i>
<i class="n b" style="left:375px;top:363px;width:24px">CTS5029</i>
<i class="n b" style="left:375px;top:373px;width:24px">FT27293</i>
<i class="n b" style="left:375px;top:384px;width:24px">Y131454</i>
<i class="n b" style="left:375px;top:394px;width:24px">Y22447</i>
<i class="n b" style="left:375px;top:403px;width:22px;height:7px">Z30031</i>
<i class="n b f6 y" style="left:428px;top:320px;width:24px;height:9px">L2</i>
<i class="n b f6 y" style="left:412px;top:337px;width:24px;height:9px">Z49</i>
<i class="n b" style="left:408px;top:351px;width:24px">A19725</i>
<i class="n b" style="left:411px;top:361px;width:22px">A6454</i>
<i class="n b" style="left:410px;top:371px;width:23px">BY2823</i>
<i class="n b" style="left:410px;top:381px;width:23px">BY31138</i>
<i class="n b" style="left:410px;top:391px;width:23px">BY3483</i>
<i class="n b" style="left:410px;top:402px;width:23px">BY3485</i>
<i class="n b" style="left:410px;top:412px;width:23px">BY43722</i>
<i class="n b" style="left:410px;top:422px;width:23px">BY55686</i>
<i class="n b" style="left:410px;top:432px;width:23px">BY61041</i>
<i class="n b" style="left:410px;top:443px;width:23px">BY75734</i>
<i class="n b" style="left:410px;top:453px;width:23px">BY71971</i>
<i class="n b f4" style="left:445px;top:392px;width:24px;height:7px">FGC11577</i>
<i class="n b f4" style="left:447px;top:402px;width:24px;height:7px">FGC13617</i>
<i class="n b f4" style="left:453px;top:412px;width:24px;height:7px">FGC20501</i>
<i class="n b f4" style="left:455px;top:422px;width:24px;height:7px">FGC20502</i>
<i class="n b" style="left:456px;top:431px;width:24px">FT12685</i>
<i class="n b" style="left:460px;top:442px;width:23px">FT18672</i>
<i class="n b" style="left:454px;top:453px;width:24px">FTA2485</i>
<i class="n b" style="left:430px;top:469px;width:24px">CTS5689</i>
<i class="n b" style="left:435px;top:479px;width:20px">DF90</i>
<i class="n b" style="left:441px;top:490px;width:24px">DF110</i>
<i class="n b f6" style="left:482px;top:313px;width:24px;height:9px">Z56</i>
<i class="n b" style="left:512px;top:314px;width:25px">BY3548</i>
<i class="n b f6" style="left:484px;top:332px;width:24px;height:9px">ZZ45</i>
<i class="n b" style="left:522px;top:333px;width:24px">PF6658</i>
<i class="n b" style="left:474px;top:347px;width:22px">PF6610</i>
<i class="n b" style="left:512px;top:343px;width:24px">FT27293</i>
<i class="n b" style="left:482px;top:357px;width:22px">S1567</i>
<i class="n b" style="left:513px;top:353px;width:24px">BY3849</i>
<i class="n b" style="left:482px;top:367px;width:22px">Y41822</i>
<i class="n b y" style="left:518px;top:364px;width:20px">Z36</i>
<i class="n b" style="left:482px;top:377px;width:22px">Y61135</i>
<i class="n b" style="left:482px;top:387px;width:22px">Y66601</i>
<i class="n b" style="left:482px;top:398px;width:22px">Z29677</i>
<i class="n b" style="left:488px;top:406px;width:22px">Z29677</i>
<i class="n b" style="left:490px;top:416px;width:22px">ZZ48</i>
<i class="n b" style="left:492px;top:427px;width:22px">Z258</i>
<i class="n b y" style="left:500px;top:439px;width:22px">Z367</i>
<i class="n b" style="left:487px;top:451px;width:22px">L20</i>
<i class="n b" style="left:515px;top:451px;width:18px">Z34</i>
<i class="n b y" style="left:543px;top:312px;width:20px">Z43</i>
<i class="n b" style="left:545px;top:325px;width:24px;height:7px">Y131941</i>
<i class="n b" style="left:546px;top:345px;width:24px">BY17784</i>
<i class="n b" style="left:546px;top:355px;width:24px">BY3642</i>
<i class="n b" style="left:546px;top:365px;width:24px">BY73520</i>
<i class="n b" style="left:546px;top:375px;width:24px">FGC5833</i>
<i class="n b y" style="left:546px;top:385px;width:24px">Z192</i>

<i class="n p f9 y" style="left:645px;top:264px;width:30px;height:10px">U106</i>
<i class="n p f7" style="left:649px;top:282px;width:32px;height:10px">Z2265</i>
<i class="n p f7" style="left:722px;top:284px;width:33px;height:10px">A2150</i>
<i class="n p" style="left:724px;top:298px;width:23px">BY648</i>
<i class="n p" style="left:752px;top:298px;width:25px">BY68332</i>
<i class="n p" style="left:582px;top:294px;width:24px">S18589</i>
<i class="n p f4" style="left:617px;top:303px;width:24px">BY138795</i>
<i class="n p f4" style="left:655px;top:303px;width:23px">BY95662</i>
<i class="n p f4" style="left:693px;top:303px;width:24px">BY30897</i>
<i class="n p f4" style="left:570px;top:308px;width:22px;height:7px">FGC57430</i>
<i class="n p" style="left:589px;top:317px;width:24px">S11493</i>
<i class="n p f6" style="left:617px;top:319px;width:24px;height:9px">Z381</i>
<i class="n p" style="left:761px;top:316px;width:27px">A10122</i>
<i class="n p" style="left:761px;top:327px;width:27px">BY11501</i>
<i class="n p" style="left:761px;top:337px;width:27px">FGC3861</i>
<i class="n p" style="left:761px;top:347px;width:27px">FGC396</i>
<i class="n p f4" style="left:761px;top:356px;width:27px;height:7px">FT431644</i>
<i class="n p" style="left:758px;top:367px;width:27px">S12035</i>
<i class="n p" style="left:758px;top:377px;width:27px">S18632</i>
<i class="n p" style="left:577px;top:332px;width:26px">FT40367</i>
<i class="n p f6" style="left:648px;top:334px;width:24px;height:9px">Z301</i>
<i class="n p" style="left:578px;top:345px;width:23px">M323</i>
<i class="n p f6 y" style="left:612px;top:348px;width:24px;height:9px">Z156</i>
<i class="n p f6 y" style="left:710px;top:346px;width:24px;height:9px">Z18</i>
<i class="n p f6 y" style="left:627px;top:360px;width:24px;height:9px">L48</i>
<i class="n p" style="left:578px;top:360px;width:24px">BY20378</i>
<i class="n p f4" style="left:578px;top:370px;width:24px;height:7px">FGC39681</i>
<i class="n p" style="left:582px;top:381px;width:20px">S3311</i>
<i class="n p" style="left:582px;top:391px;width:20px">S5520</i>
<i class="n p" style="left:582px;top:402px;width:20px">Y30585</i>
<i class="n p" style="left:582px;top:412px;width:20px">Z306</i>
<i class="n p f4" style="left:670px;top:354px;width:24px;height:7px">FGC13959</i>
<i class="n p f4" style="left:670px;top:364px;width:24px;height:7px">FGC20607</i>
<i class="n p" style="left:670px;top:375px;width:24px">FGC8512</i>
<i class="n p" style="left:670px;top:385px;width:24px">S10907</i>
<i class="n p" style="left:670px;top:396px;width:24px">S1685</i>
<i class="n p" style="left:676px;top:407px;width:20px">U198</i>
<i class="n p" style="left:699px;top:359px;width:24px">A6918</i>
<i class="n p" style="left:699px;top:370px;width:24px">BY62546</i>
<i class="n p" style="left:699px;top:380px;width:24px">BY66969</i>
<i class="n p f4" style="left:699px;top:390px;width:24px;height:7px">CTS12033</i>
<i class="n p" style="left:699px;top:401px;width:24px">FGC5817</i>
<i class="n p f4" style="left:699px;top:411px;width:24px;height:7px">FGC79182</i>
<i class="n p" style="left:734px;top:366px;width:24px">S15309</i>
<i class="n p" style="left:734px;top:376px;width:24px">S10726</i>
<i class="n p" style="left:734px;top:386px;width:24px">S7042</i>
<i class="n p" style="left:734px;top:396px;width:24px">S7047</i>
<i class="n p" style="left:734px;top:408px;width:24px">ZP156</i>
<i class="n p" style="left:611px;top:385px;width:24px">A6703</i>
<i class="n p" style="left:611px;top:396px;width:24px">A6704</i>
<i class="n p" style="left:611px;top:406px;width:24px">BY1282</i>
<i class="n p" style="left:611px;top:417px;width:24px">BY12508</i>
<i class="n p" style="left:611px;top:427px;width:24px">BY30290</i>
<i class="n p" style="left:611px;top:437px;width:24px">BY41635</i>
<i class="n p" style="left:642px;top:383px;width:24px">CTS3104</i>
<i class="n p y" style="left:648px;top:393px;width:20px">L47</i>
<i class="n p" style="left:643px;top:404px;width:22px">S21809</i>
<i class="n p" style="left:645px;top:414px;width:22px">S23189</i>
<i class="n p" style="left:646px;top:424px;width:20px">Z9</i>
<i class="n p" style="left:636px;top:444px;width:23px">S22294</i>
<i class="n p" style="left:647px;top:456px;width:22px">S4103</i>
<i class="n p" style="left:663px;top:466px;width:22px">Z331</i>
<i class="n p" style="left:676px;top:456px;width:22px">Z30</i>
<i class="n p" style="left:682px;top:442px;width:24px">BY61725</i>
<i class="n p f4" style="left:686px;top:423px;width:24px;height:7px">FGC72125</i>
<i class="n p" style="left:718px;top:423px;width:22px">Z17</i>

<div class="bx" style="left:0;top:465px;width:256px;height:31px;background:#2b6d7b;border:1px solid #5a8a95;box-sizing:border-box">
<div style="position:absolute;left:7px;top:3px;font-weight:bold;font-size:9.5px;white-space:nowrap">R1b P312(S116)+ L21- DF27- U152-<span style="font-size:7px"> Project</span></div>
<div style="position:absolute;left:7px;top:16px;font-size:8.5px;color:#2a38e8;text-decoration:underline;white-space:nowrap">http://www.familytreedna.com/groups/R-P312</div>
<div style="position:absolute;left:204px;top:3px;font-size:8px;line-height:12px;color:#dde6ee;white-space:nowrap">DF19,DF99,<br>L238,Z290</div>
</div>
<div class="bx" style="left:0;top:496px;width:256px;height:22px;background:#1c7a2b">
<div style="position:absolute;left:7px;top:6px;font-weight:bold;font-size:9px;white-space:nowrap">R1b P312&gt;L21(M529)+<span style="font-size:6.5px"> Projects</span></div>
</div>
<div class="bx" style="left:516px;top:477px;width:274px;height:33px;background:#3dca9f;border-top:1px dashed #6aa">
<div style="position:absolute;left:10px;top:6px;font-weight:bold;font-size:9.5px;white-space:nowrap">R1b S1194/CTS4528/S14328/A8039+<span style="font-size:7px"> Project</span></div>
<div style="position:absolute;left:10px;top:19px;font-size:8.5px;color:#1a2fd0;text-decoration:underline;white-space:nowrap">http://www.familytreedna.com/groups/S1194</div>
</div>
<div class="bx" style="left:516px;top:510px;width:274px;height:8px;background:#d20a18"></div>
</div>
</body></html>
